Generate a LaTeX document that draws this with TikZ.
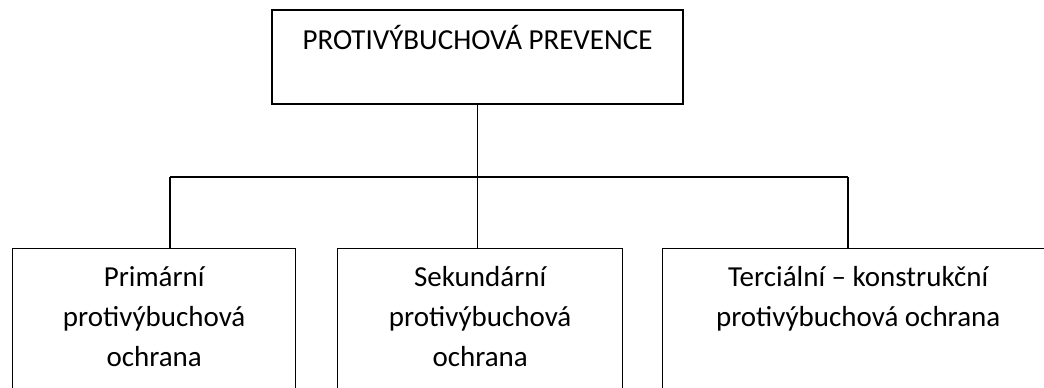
\documentclass[tikz,border=0pt]{standalone}
\usepackage{fontspec}
\setmainfont{Carlito}
\begin{document}
\begin{tikzpicture}[
   x=0.75pt, y=-0.75pt,
   every node/.style={font=\fontsize{21.75}{30}\selectfont},
   box/.style={draw, line width=1pt, inner sep=0pt},
   boxtext/.style={align=center, inner sep=0pt, anchor=north}]
\useasboundingbox (0,0) rectangle (1044,387);
\clip (0,0) rectangle (1044,387);

\node[box, anchor=base, minimum width=308.25pt,
      text height=29.25pt, text depth=41.25pt] (prevence) at (477.5,49)
      {PROTIVÝBUCHOVÁ PREVENCE};

\node[box, anchor=north west, minimum width=212.25pt, minimum height=150pt] (primarni) at (12,248) {};
\node[box, anchor=north west, minimum width=213.75pt, minimum height=150pt] (sekundarni) at (337,248) {};
\node[box, anchor=north west, minimum width=293.25pt, minimum height=150pt] (tercialni) at (662,248) {};

\node[boxtext] (primarnitext) at ([yshift=-13.5pt]primarni.north) {Primární\\protivýbuchová\\ochrana};
\node[boxtext] (sekundarnitext) at ([yshift=-13.5pt]sekundarni.north) {Sekundární\\protivýbuchová\\ochrana};
\node[boxtext] (tercialnitext) at ([yshift=-13.5pt]tercialni.north) {Terciální – konstrukční\\protivýbuchová ochrana};

\coordinate (lfork) at (170,177);
\coordinate (rfork) at (848,177);
\coordinate (fork) at (prevence.south |- lfork);

\draw[line width=1pt] (prevence.south) -- (fork);
\draw[line width=1pt] (lfork) -- (rfork);
\draw[line width=1pt] (lfork) -- (lfork |- primarni.north);
\draw[line width=1pt] (fork) -- (fork |- sekundarni.north);
\draw[line width=1pt] (rfork) -- (rfork |- tercialni.north);

\end{tikzpicture}
\end{document}
